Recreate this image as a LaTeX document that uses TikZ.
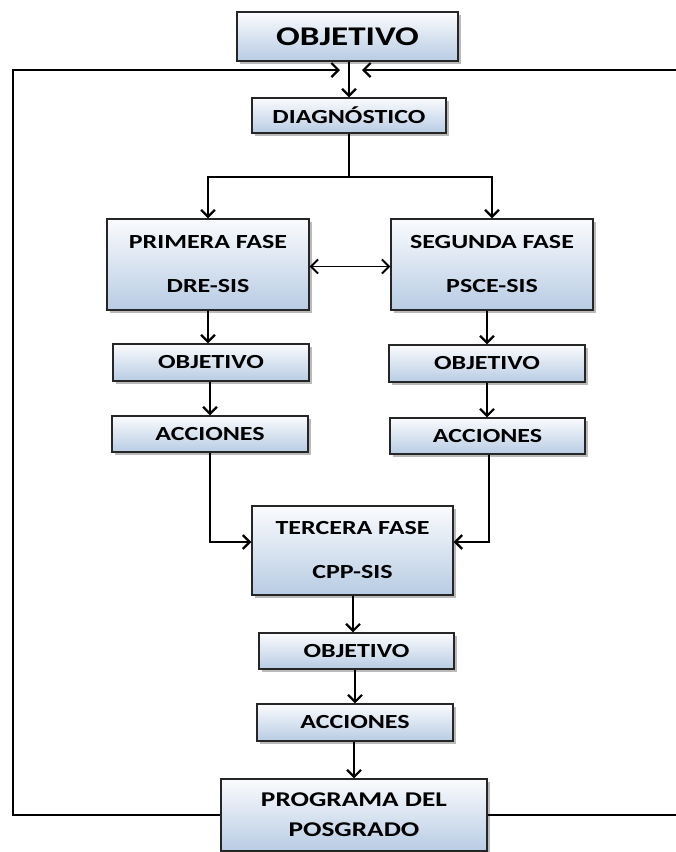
\documentclass[tikz,border=0pt]{standalone}
\usepackage{fontspec}
\newfontfamily\boxfont[FakeStretch=1.3]{Carlito Bold}
\usetikzlibrary{arrows.meta,shadows}
\definecolor{boxbot}{RGB}{184,204,228}
\definecolor{boxtop}{RGB}{250,251,253}
\tikzset{
  box/.style={draw=black!85, line width=1.3pt, top color=boxtop, bottom color=boxbot,
    drop shadow={shadow xshift=2.5pt, shadow yshift=-2.5pt, opacity=0.45, fill=black!60},
    inner sep=0pt, align=center, font=\boxfont\fontsize{20}{24}\selectfont},
  conn/.style={line width=2.2pt, black},
  arr/.style={conn, -{Straight Barb[length=7pt,width=14pt,line width=2.2pt]}},
  darr/.style={conn, {Straight Barb[length=7pt,width=14pt,line width=2pt]}-{Straight Barb[length=7pt,width=14pt,line width=2pt]}, line width=1.8pt}
}
\begin{document}
\begin{tikzpicture}[x=1pt,y=-1pt]
\useasboundingbox (0,0) rectangle (676,852);
\begin{scope}
\clip (0,0) rectangle (676,852);
% nodes
\node[box, minimum width=221pt, minimum height=49pt, font=\boxfont\fontsize{27}{30}\selectfont] (obj0) at (347.5,36.5) {OBJETIVO};
\node[box, minimum width=194pt, minimum height=35pt] (diag) at (349,115.5) {DIAGNÓSTICO};
\node[box, minimum width=202pt, minimum height=91pt, font=\boxfont\fontsize{20}{44}\selectfont] (f1) at (208,264.5) {PRIMERA FASE\\DRE-SIS};
\node[box, minimum width=202pt, minimum height=91pt, font=\boxfont\fontsize{20}{44}\selectfont] (f2) at (492,264.5) {SEGUNDA FASE\\PSCE-SIS};
\node[box, minimum width=196pt, minimum height=37pt] (o1) at (211,362.5) {OBJETIVO};
\node[box, minimum width=196pt, minimum height=36pt] (a1) at (210,434) {ACCIONES};
\node[box, minimum width=196pt, minimum height=37pt] (o2) at (487,363.5) {OBJETIVO};
\node[box, minimum width=195pt, minimum height=36pt] (a2) at (487.5,436) {ACCIONES};
\node[box, minimum width=201pt, minimum height=89pt, font=\boxfont\fontsize{20}{44}\selectfont] (f3) at (352.5,550.5) {TERCERA FASE\\CPP-SIS};
\node[box, minimum width=195pt, minimum height=36pt] (o3) at (356.5,651) {OBJETIVO};
\node[box, minimum width=196pt, minimum height=37pt] (a3) at (355,722.5) {ACCIONES};
\node[box, minimum width=266pt, minimum height=72pt, font=\boxfont\fontsize{21}{30}\selectfont] (prog) at (354,815) {PROGRAMA DEL\\POSGRADO};
% coordinates
\coordinate (br) at (349,177);
\coordinate (tl) at (13,70);
\coordinate (bl) at (13,815);
\coordinate (tr) at (690,70);
\coordinate (brr) at (690,815);
\coordinate (ainl) at (340,70);
\coordinate (ainr) at (362,70);
% connectors
\draw[arr] (obj0.south -| diag.north) -- (diag.north);
\draw[conn] (diag.south) -- (br);
\draw[arr] (br) -| (f1.north);
\draw[arr] (br) -| (f2.north);
\draw[darr] ([yshift=-2pt]f1.east) -- ([yshift=-2pt]f2.west);
\draw[arr] (f1.south) -- (f1.south |- o1.north);
\draw[arr] (o1.south -| a1.north) -- (a1.north);
\draw[arr] (f2.south -| o2.north) -- (o2.north);
\draw[arr] (o2.south) -- (o2.south |- a2.north);
\draw[arr] (a1.south) |- ([yshift=8.5pt]f3.west);
\draw[arr] ([xshift=1.5pt]a2.south) |- ([yshift=8.5pt]f3.east);
\draw[arr] ([xshift=0.5pt]f3.south) -- ([xshift=0.5pt]f3.south |- o3.north);
\draw[arr] (o3.south -| a3.north) -- (a3.north);
\draw[arr] (a3.south -| prog.north) -- (prog.north);
\draw[arr] (prog.west) -- (bl) -- (tl) -- (ainl);
\draw[arr] (prog.east) -- (brr);
\draw[arr] (tr) -- (ainr);
\end{scope}
\end{tikzpicture}
\end{document}
